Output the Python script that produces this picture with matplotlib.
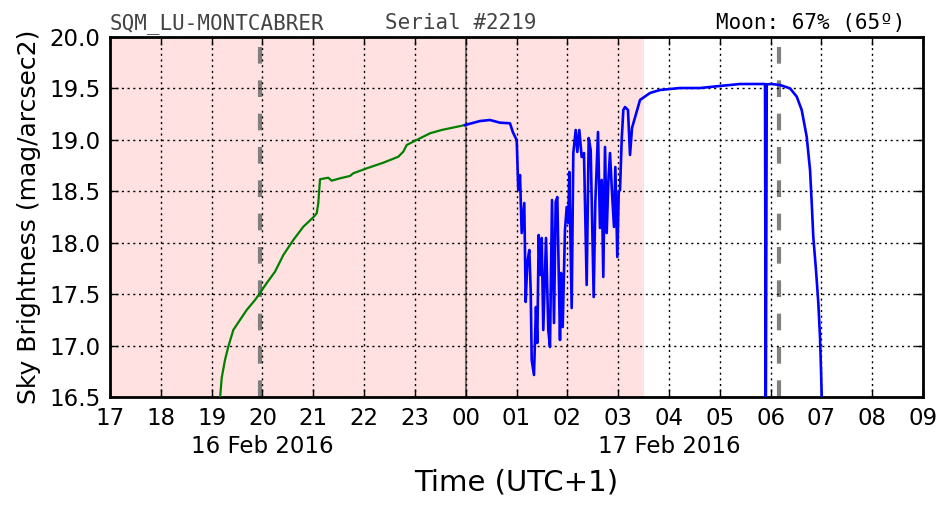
import matplotlib
matplotlib.use("Agg")
import matplotlib.pyplot as plt
from matplotlib.ticker import FixedLocator, FuncFormatter
import matplotlib.transforms as mtransforms

# ---- data (hours since 00:00 of 16 Feb 2016, local UTC+1) ----
green_t = [19.16, 19.198, 19.263, 19.328, 19.427, 19.558, 19.690, 19.854, 19.952, 20.084,
           20.247, 20.411, 20.607, 20.804, 21.001, 21.068, 21.099, 21.133, 21.296, 21.363,
           21.526, 21.723, 21.788, 22.052, 22.379, 22.674, 22.772, 22.839, 23.036, 23.298,
           23.528, 23.986]
green_v = [16.45, 16.685, 16.860, 16.989, 17.152, 17.249, 17.346, 17.443, 17.511, 17.608,
           17.718, 17.880, 18.026, 18.155, 18.247, 18.286, 18.383, 18.617, 18.632, 18.603,
           18.626, 18.649, 18.675, 18.723, 18.778, 18.836, 18.885, 18.950, 18.999, 19.064,
           19.096, 19.144]

blue_t = [23.986, 24.282, 24.478, 24.675, 24.872, 24.925, 24.970, 25.004, 25.035, 25.069,
          25.102, 25.153, 25.181, 25.212, 25.252, 25.279, 25.299, 25.344, 25.383, 25.409,
          25.437, 25.462, 25.496, 25.527, 25.581, 25.626, 25.659, 25.699, 25.738, 25.771,
          25.803, 25.856, 25.876, 25.909, 25.954, 25.988, 26.019, 26.039, 26.086, 26.118,
          26.165, 26.197, 26.236, 26.283, 26.328, 26.381, 26.421, 26.460, 26.519, 26.551,
          26.604, 26.643, 26.677, 26.708, 26.742, 26.775, 26.807, 26.840, 26.880, 26.919,
          26.945, 26.984, 27.012, 27.037, 27.070, 27.102, 27.135, 27.194, 27.234, 27.273,
          27.431, 27.628, 27.825, 28.218, 28.612, 29.006, 29.399, 29.891, 29.905, 29.925,
          30.022, 30.186, 30.383, 30.515, 30.613, 30.711, 30.777, 30.810, 30.841, 30.894,
          30.940, 30.973, 30.993, 31.007, 31.02]
blue_v = [19.144, 19.183, 19.193, 19.167, 19.161, 19.079, 19.031, 18.999, 18.512, 18.658,
          18.094, 18.386, 17.424, 17.803, 17.929, 17.540, 16.860, 16.714, 17.375, 17.025,
          18.075, 17.686, 18.046, 17.151, 18.046, 17.151, 16.986, 18.415, 17.219, 18.396,
          18.444, 17.054, 17.706, 17.180, 18.124, 18.347, 18.192, 18.688, 17.365, 18.872,
          19.096, 18.882, 19.096, 18.833, 18.872, 17.589, 19.018, 18.901, 17.472, 18.386,
          19.076, 18.143, 18.610, 17.667, 18.931, 18.094, 18.590, 18.872, 18.483, 18.153,
          18.736, 17.861, 18.493, 18.513, 18.999, 19.290, 19.319, 19.290, 18.853, 19.115,
          19.388, 19.456, 19.485, 19.504, 19.504, 19.524, 19.543, 19.543, 16.0, 19.54,
          19.543, 19.533, 19.501, 19.420, 19.290, 19.031, 18.707, 18.386, 18.056, 17.735,
          17.414, 17.083, 16.763, 16.5, 16.3]

night_span = [17.0, 27.5]          # shaded (moon up) interval
twilight_marks = [19.95, 30.166]   # dashed gray verticals
midnight = [24.0]
x_ticks = list(range(17, 34))
y_ticks = [16.5, 17.0, 17.5, 18.0, 18.5, 19.0, 19.5, 20.0]
date_labels = [(20.0, "16 Feb 2016"), (28.0, "17 Feb 2016")]

title_left = "SQM_LU-MONTCABRER"
title_mid = "Serial #2219"
title_right = "Moon: 67% (65º)"

# ---- figure ----
fig = plt.figure(figsize=(9.52, 5.12), dpi=100)
ax = fig.add_axes([110/952, 1-397/512, (923-110)/952, (397-37)/512])

ax.axvspan(night_span[0], night_span[1], color="#ffe1e1", zorder=0, lw=0)
for xm in twilight_marks:
    ax.axvline(xm, color="gray", lw=3, dashes=(4, 4), zorder=2)
for xm in midnight:
    ax.axvline(xm, color="#7a6e6e", lw=1.5, zorder=2)

ax.plot(green_t, green_v, color="green", lw=1.6, zorder=3)
ax.plot(blue_t, blue_v, color="blue", lw=1.9, zorder=3)

ax.set_xlim(17, 33)
ax.set_ylim(16.5, 20.0)
ax.xaxis.set_major_locator(FixedLocator(x_ticks))
ax.xaxis.set_major_formatter(FuncFormatter(lambda v, p: "%02d" % (int(round(v)) % 24)))
ax.yaxis.set_major_locator(FixedLocator(y_ticks))
ax.yaxis.set_major_formatter(FuncFormatter(lambda v, p: "%.1f" % v))
ax.grid(True, color="black", lw=1.0, dashes=(1.5, 2.6))
ax.set_axisbelow(False)
ax.tick_params(direction="in", length=6, width=1, top=True, right=True,
               labelsize=16.5, pad=7)
for s in ax.spines.values():
    s.set_linewidth(2)

trans = mtransforms.blended_transform_factory(ax.transData, ax.transAxes)
for xd, lab in date_labels:
    ax.text(xd, -0.137, lab, transform=trans, ha="center", va="center", fontsize=16.5)

ax.set_xlabel("Time (UTC+1)", fontsize=21, labelpad=28)
ax.set_ylabel("Sky Brightness (mag/arcsec2)", fontsize=18, labelpad=6)

ax.text(0.0, 1.022, title_left, transform=ax.transAxes, ha="left", va="baseline",
        family="DejaVu Sans Mono", fontsize=15, color="#444444", zorder=10)
ax.text(0.338, 1.022, title_mid, transform=ax.transAxes, ha="left", va="baseline",
        family="DejaVu Sans Mono", fontsize=15, color="#444444", zorder=10)
ax.text(0.978, 1.022, title_right, transform=ax.transAxes, ha="right", va="baseline",
        family="DejaVu Sans Mono", fontsize=15, color="black", zorder=10)

fig.savefig("out.png", dpi=100)
